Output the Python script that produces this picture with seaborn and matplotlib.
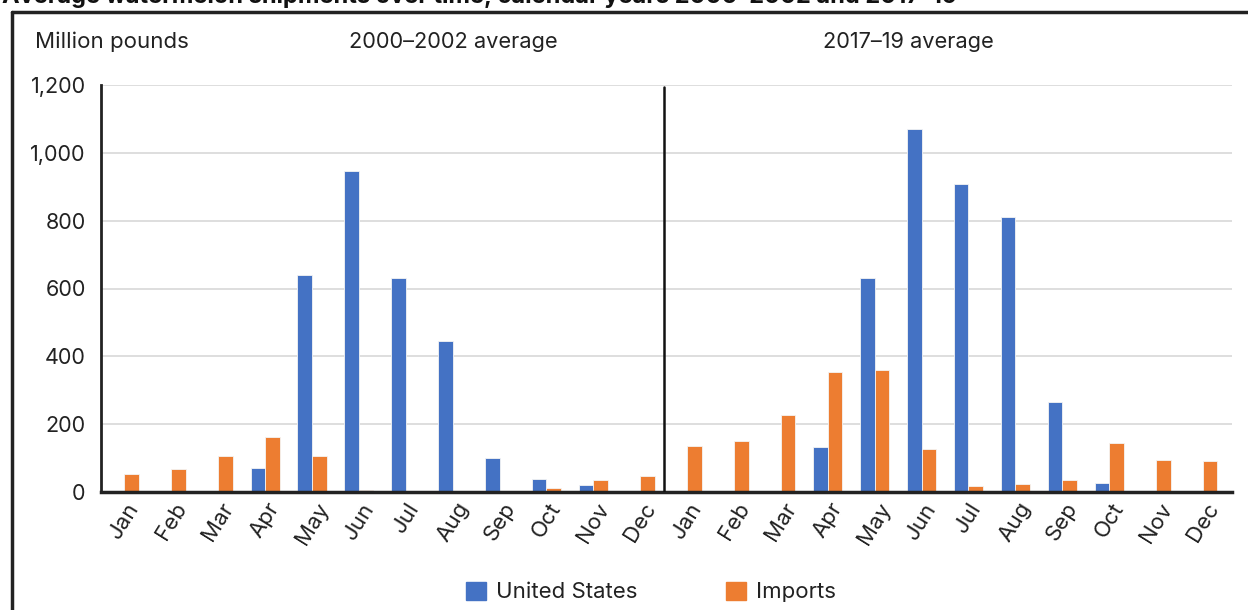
import matplotlib
matplotlib.use("Agg")
import matplotlib.pyplot as plt
import seaborn as sns
import pandas as pd
from matplotlib.lines import Line2D
from matplotlib.patches import Rectangle

months = ["Jan", "Feb", "Mar", "Apr", "May", "Jun", "Jul", "Aug", "Sep", "Oct", "Nov", "Dec"]
periods = ["2000\u20132002 average", "2017\u201319 average"]

us_2000 = [0, 0, 0, 72, 641, 946, 631, 445, 101, 37, 21, 0]
imp_2000 = [52, 68, 106, 161, 105, 6, 0, 0, 0, 12, 35, 48]
us_2017 = [0, 0, 0, 133, 631, 1069, 909, 812, 264, 26, 0, 0]
imp_2017 = [137, 149, 228, 354, 360, 127, 17, 23, 34, 145, 93, 92]

series_names = ["United States", "Imports"]
colors = {"United States": "#4472C4", "Imports": "#ED7D31"}

rows = []
for p, us, imp in [(0, us_2000, imp_2000), (1, us_2017, imp_2017)]:
    for i, m in enumerate(months):
        key = f"{p}-{m}"
        rows.append({"key": key, "series": "United States", "value": us[i]})
        rows.append({"key": key, "series": "Imports", "value": imp[i]})
df = pd.DataFrame(rows)
order = [f"{p}-{m}" for p in range(2) for m in months]

sns.set_theme(style="white")
plt.rcParams["font.family"] = ["Inter", "DejaVu Sans"]

W, H = 1248, 610
fig = plt.figure(figsize=(W / 100, H / 100), dpi=100)
ax = fig.add_axes([101 / W, 1 - 492 / H, (1232 - 101) / W, (492 - 85) / H])

sns.barplot(data=df, x="key", y="value", hue="series", order=order,
            hue_order=series_names, palette=colors, width=0.62, saturation=1,
            edgecolor="#f4f4f4", linewidth=0.6, ax=ax, legend=False)

ax.set_ylim(0, 1200)
ax.set_xlim(-0.5, 23.62)
ax.set_yticks(range(0, 1201, 200))
ax.set_yticklabels([f"{v:,}" for v in range(0, 1201, 200)], fontsize=15.5, color="#222222")
ax.set_xticks(range(24))
ax.set_xticklabels(months * 2, rotation=58, ha="center", va="top", fontsize=16,
                   color="#222222")
ax.tick_params(axis="both", length=0)
ax.tick_params(axis="y", pad=11)
ax.tick_params(axis="x", pad=5)
ax.set_xlabel("")
ax.set_ylabel("")
ax.yaxis.grid(True, color="#d4d4d4", linewidth=1.1)
ax.set_axisbelow(True)
for s in ["top", "right"]:
    ax.spines[s].set_visible(False)
ax.spines["left"].set_color("#222222")
ax.spines["left"].set_linewidth(2)
ax.spines["bottom"].set_color("#222222")
ax.spines["bottom"].set_linewidth(2.5)

ax.plot([11.5, 11.5], [0, 1195], color="#111111", linewidth=1.8, zorder=5)

# headers
fig.text(35 / W, 1 - 42 / H, "Million pounds", fontsize=16, color="#222222", va="center", ha="left")
fig.text(453 / W, 1 - 42 / H, periods[0], fontsize=15.7, color="#222222", va="center", ha="center")
fig.text(908 / W, 1 - 42 / H, periods[1], fontsize=15.7, color="#222222", va="center", ha="center")

# legend
handles = [Rectangle((0, 0), 1, 1, color=colors[s]) for s in series_names]
fig.legend(handles, series_names, loc="center", bbox_to_anchor=(651 / W, 1 - 592 / H),
           ncol=2, frameon=False, fontsize=16, handlelength=0.9, handleheight=0.9,
           handletextpad=0.45, columnspacing=4.0, labelcolor="#222222")

# frame lines
fig.add_artist(Line2D([12 / W, 12 / W], [0, 1 - 12 / H], transform=fig.transFigure,
                      color="#222222", linewidth=2.5))
fig.add_artist(Line2D([12 / W, 1], [1 - 12 / H, 1 - 12 / H], transform=fig.transFigure,
                      color="#222222", linewidth=2.5))

# title (cut off at the top edge, as in the reference)
fig.text(2 / W, 1 + 3 / H, "Average watermelon shipments over time, calendar years 2000\u20132002 and 2017\u201319",
         fontsize=17, fontweight="bold", color="#111111", va="center", ha="left")

fig.savefig("out.png", dpi=100)
